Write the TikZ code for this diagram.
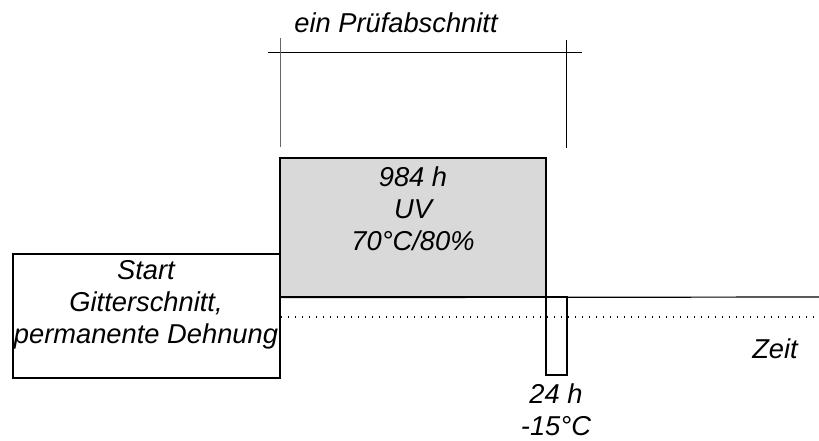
\documentclass[tikz,border=0pt]{standalone}
\usepackage{fontspec}
\setmainfont{Liberation Sans}
\usetikzlibrary{positioning,calc}
\definecolor{phaseGray}{HTML}{D9D9D9}

\begin{document}
\begin{tikzpicture}[
      x=1pt, y=-1pt,
      txt/.style={font=\fontsize{27.3pt}{32pt}\selectfont\itshape, align=center, inner sep=0pt, anchor=base},
      phase/.style={rectangle, draw=black, line width=1.2pt, inner sep=0pt},
      axis/.style={draw=black, line width=1.2pt},
      dimline/.style={draw=black, line width=0.8pt}
    ]
      \useasboundingbox (0,0) rectangle (819,440);

      % Phasen
      \node[phase, minimum width=267pt, minimum height=124pt] (start) at (146.5,316) {};
      \node[phase, fill=phaseGray, minimum width=266pt, minimum height=139pt] (uv) at (413,227.5) {};
      \node[phase, minimum width=21pt, minimum height=78pt] (frost) at (556.5,336) {};

      % Zeitachse
      \coordinate (axisEnd) at (819,297);
      \coordinate (dotStart) at (281,317);
      \coordinate (dotEnd) at (819,317);
      \draw[axis] (uv.south west) -- (axisEnd);
      \draw[line width=1.4pt, dash pattern=on 1.4pt off 5.6pt] (dotStart) -- (dotEnd);

      % Pruefabschnitt
      \coordinate (dimL) at (280,52);
      \coordinate (dimR) at (566,52);
      \coordinate (dimLs) at (268,52);
      \coordinate (dimRs) at (582,52);
      \draw[dimline] (dimLs) -- (dimRs);
      \draw[dimline, draw=black!60] ($(dimL)+(0,-14)$) -- ($(dimL)+(0,95)$);
      \draw[dimline] ($(dimR)+(0,-12)$) -- ($(dimR)+(0,96)$);

      % Texte
      \node[txt] (lblAbschnitt) at (396,32) {ein Prüfabschnitt};
      \node[txt] (lblUV) at (413,250) {984 h\\UV\\70°C/80\%};
      \node[txt] (lblStart) at (146,343) {Start\\Gitterschnitt,\\permanente Dehnung};
      \node[txt] (lblZeit) at (775,358) {Zeit};
      \node[txt] (lblFrost) at (556,435) {24 h\\-15°C};
    \end{tikzpicture}
\end{document}
